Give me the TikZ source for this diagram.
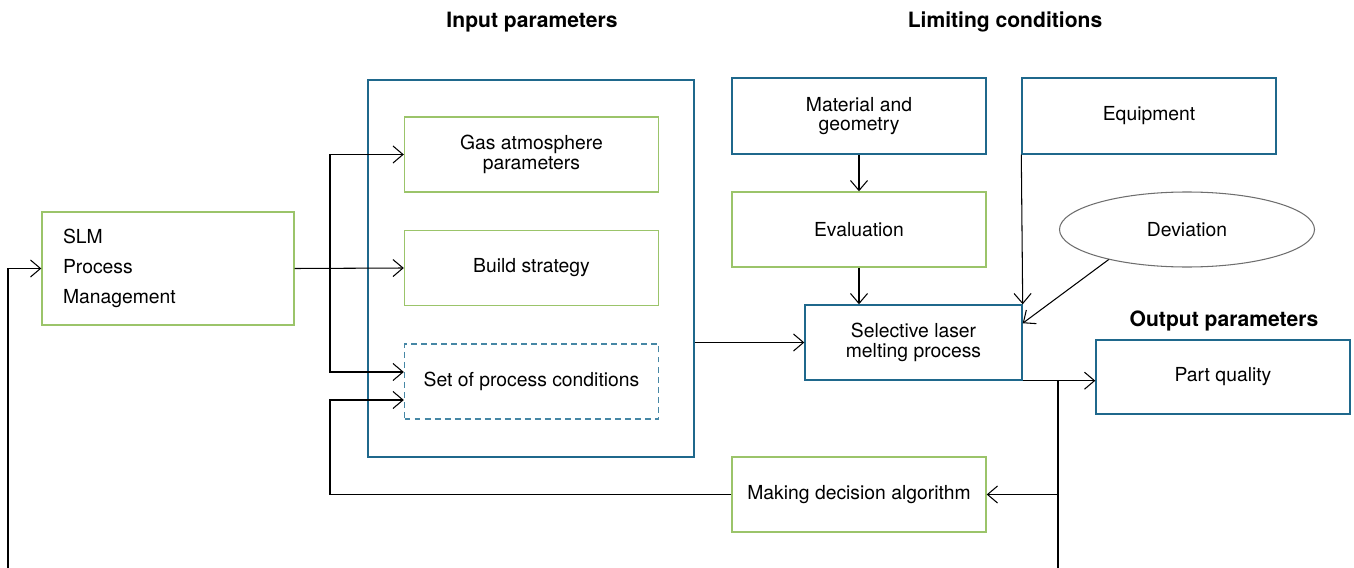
\documentclass[tikz,border=0pt]{standalone}
\usepackage{fontspec}
\setmainfont{TeX Gyre Heros}
\usepackage{tikz}
\usetikzlibrary{arrows.meta, positioning, shapes.geometric, calc}
\definecolor{boxgreen}{RGB}{155,196,106}
\definecolor{boxblue}{RGB}{31,104,140}
\definecolor{setblue}{RGB}{70,135,165}
\definecolor{ovalgray}{RGB}{110,110,110}

\begin{document}
\begin{tikzpicture}[
    x=0.2mm, y=-0.2mm,
    >={Straight Barb[length=2mm, width=3.4mm]}, line width=0.6pt,
    box/.style={rectangle, draw, line width=0.8pt, minimum width=5.08cm, minimum height=1.5cm,
        align=center, font=\fontsize{11}{11}\selectfont, inner sep=2pt},
    greenbox/.style={box, draw=boxgreen},
    bluebox/.style={box, draw=boxblue},
    title/.style={font=\bfseries\fontsize{12}{14}\selectfont}
]
\useasboundingbox (0,0) rectangle (1354,568);

% Titles
\node[title] (tin) at (532,22) {Input parameters};
\node[title] (tlim) at (1005,22) {Limiting conditions};
\node[title] (tout) at (1224,321) {Output parameters};

% Nodes
\node[greenbox, minimum width=5.04cm, minimum height=2.26cm, text width=4.2cm, align=left,
    font=\fontsize{11}{17}\selectfont] (slm) at (168,268.5) {SLM\\Process\\Management};
\node[draw=boxblue, line width=0.8pt, minimum width=6.52cm, minimum height=7.54cm] (inbox) at (531,268.5) {};
\node[greenbox] (gas) at (531.5,154.5) {Gas atmosphere\\parameters};
\node[greenbox] (build) at (531.5,268) {Build strategy};
\node[bluebox, draw=setblue, dash pattern=on 3.4pt off 2.3pt] (setpc) at (531.5,381.5) {Set of process conditions};
\node[bluebox, minimum height=1.52cm] (matgeo) at (859,116) {Material and\\geometry};
\node[bluebox, minimum height=1.52cm] (equip) at (1149,116) {Equipment};
\node[greenbox] (evalu) at (859,229.5) {Evaluation};
\node[ellipse, draw=ovalgray, minimum width=5.1cm, minimum height=1.5cm,
    font=\fontsize{11}{11}\selectfont] (devi) at (1187,229.5) {Deviation};
\node[bluebox, minimum width=4.34cm] (slmp) at (913.5,342.5) {Selective laser\\melting process};
\node[bluebox, minimum height=1.48cm] (partq) at (1223,377) {Part quality};
\node[greenbox] (decide) at (859,494.5) {Making decision algorithm};

% Junctions
\coordinate (lx) at (8,568);
\coordinate (bx) at (330,0);
\coordinate (rx) at (1058,568);
\coordinate (sin1) at ($(setpc.west)+(0,-9.5)$);
\coordinate (sin2) at ($(setpc.west)+(0,18.5)$);

% Connectors
\draw[->] (lx) |- (slm.west);
\draw[->] (slm.east) -- (build.west);
\draw[->] (bx |- slm.east) |- (gas.west);
\draw[->] (bx |- slm.east) |- (sin1);
\draw[->] (decide.west) -- (decide.west -| bx) |- (sin2);
\draw[->] (slmp.west -| inbox.east) -- (slmp.west);
\draw[->] (matgeo) -- (evalu);
\draw[->] (evalu.south) -- (evalu.south |- slmp.north);
\draw[->] (equip.south west) -- (slmp.north east);
\draw[->] (devi.201) -- (slmp.10);
\draw[->] (slmp.south east) -- (slmp.south east -| partq.west);
\draw (slmp.south east -| rx) -- (rx);
\draw[->] (decide.east -| rx) -- (decide.east);

\end{tikzpicture}
\end{document}
